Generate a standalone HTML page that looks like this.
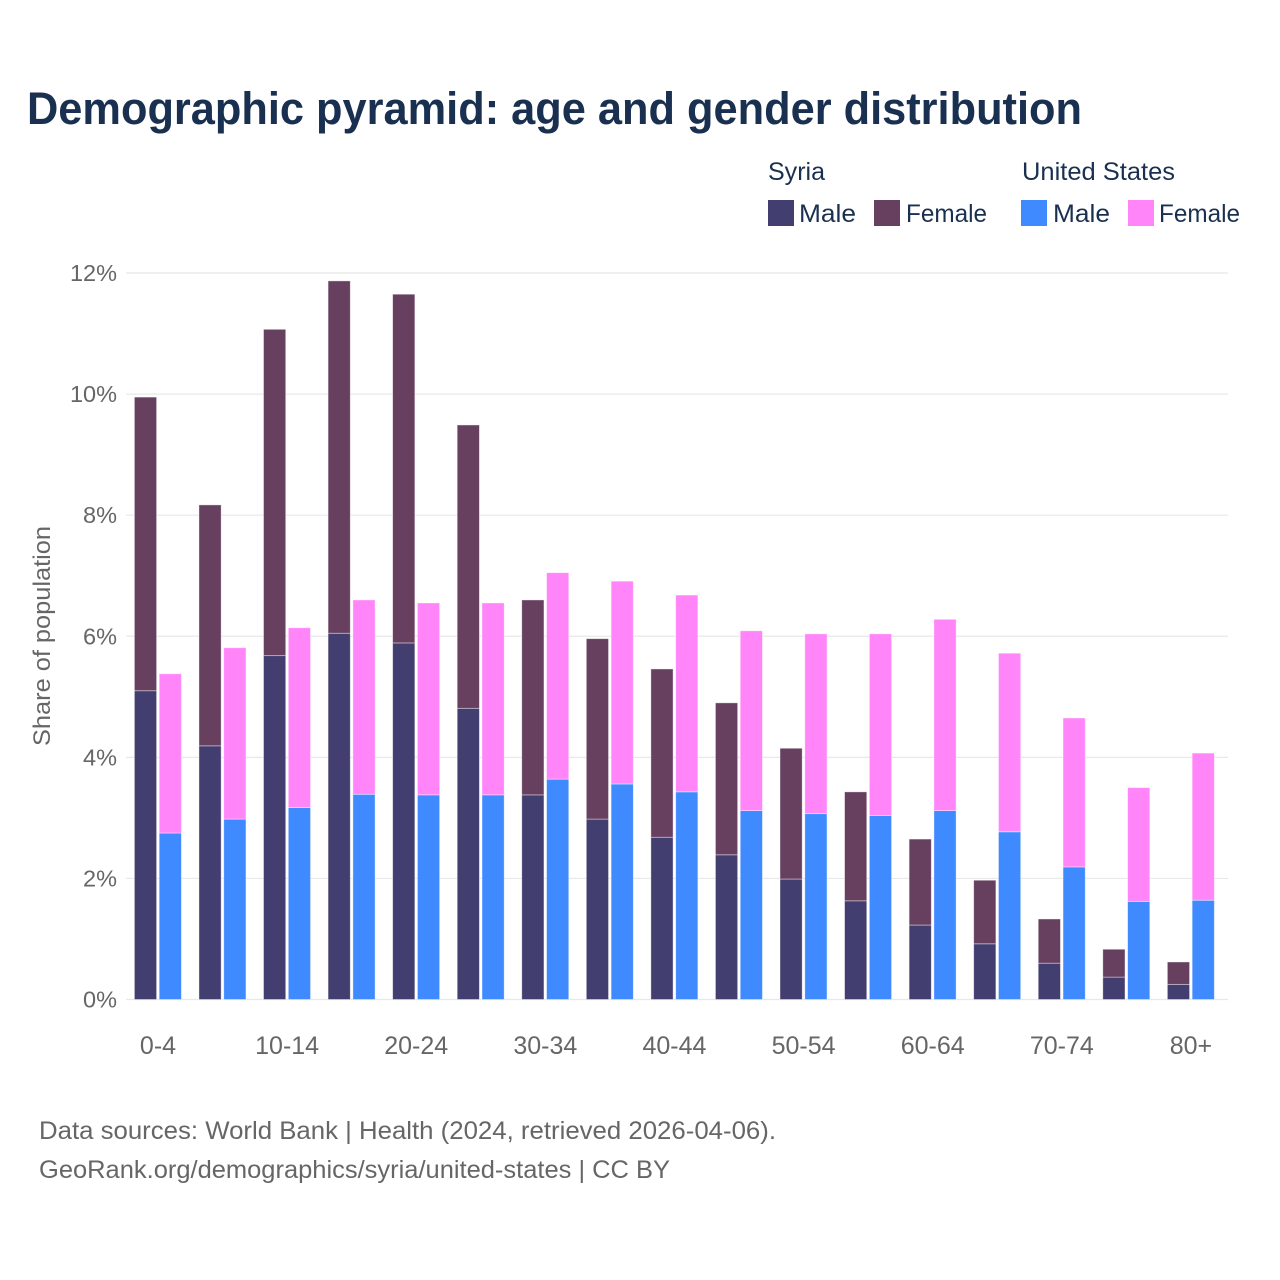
<!DOCTYPE html>
<html lang="en">
<head>
<meta charset="utf-8">
<title>Demographic pyramid</title>
<style>
html,body{margin:0;padding:0;background:#fff}
svg{display:block}
text{font-family:"Liberation Sans",sans-serif}
</style>
</head>
<body>
<svg id="chart" xmlns="http://www.w3.org/2000/svg" width="1280" height="1280" viewBox="0 0 1280 1280">
<rect width="1280" height="1280" fill="#fff"/>
<text x="27" y="124" font-size="45" font-weight="700" fill="#1a3050" textLength="1055" lengthAdjust="spacingAndGlyphs">Demographic pyramid: age and gender distribution</text>
<g>
<text x="768" y="180" font-size="25" fill="#1a3050" textLength="57" lengthAdjust="spacingAndGlyphs">Syria</text>
<text x="1022" y="180" font-size="25" fill="#1a3050" textLength="153" lengthAdjust="spacingAndGlyphs">United States</text>
<rect x="768" y="200" width="26" height="26" fill="#433e70"/>
<text x="799" y="222" font-size="25" fill="#1a3050" textLength="57" lengthAdjust="spacingAndGlyphs">Male</text>
<rect x="874" y="200" width="26" height="26" fill="#674060"/>
<text x="906" y="222" font-size="25" fill="#1a3050" textLength="81" lengthAdjust="spacingAndGlyphs">Female</text>
<rect x="1021" y="200" width="26" height="26" fill="#408aff"/>
<text x="1053" y="222" font-size="25" fill="#1a3050" textLength="57" lengthAdjust="spacingAndGlyphs">Male</text>
<rect x="1128" y="200" width="26" height="26" fill="#ff85f9"/>
<text x="1159" y="222" font-size="25" fill="#1a3050" textLength="81" lengthAdjust="spacingAndGlyphs">Female</text>
</g>
<g id="grid"></g>
<g id="bars"></g>
<g id="xlabels"></g>
<text transform="translate(50,636) rotate(-90)" text-anchor="middle" font-size="24" fill="#666" textLength="220" lengthAdjust="spacingAndGlyphs">Share of population</text>
<text x="39" y="1139" font-size="25" fill="#666" textLength="737" lengthAdjust="spacingAndGlyphs">Data sources: World Bank | Health (2024, retrieved 2026-04-06).</text>
<text x="39" y="1178" font-size="25" fill="#666" textLength="631" lengthAdjust="spacingAndGlyphs">GeoRank.org/demographics/syria/united-states | CC BY</text>
</svg>
<script>
const categories = ['0-4','5-9','10-14','15-19','20-24','25-29','30-34','35-39','40-44','45-49','50-54','55-59','60-64','65-69','70-74','75-79','80+'];
const syriaMale = [5.10,4.19,5.68,6.05,5.89,4.81,3.38,2.98,2.68,2.39,1.99,1.63,1.23,0.92,0.60,0.37,0.25];
const syriaFemale = [4.85,3.98,5.39,5.82,5.76,4.68,3.22,2.98,2.78,2.51,2.16,1.80,1.42,1.05,0.73,0.46,0.37];
const usMale = [2.75,2.98,3.17,3.39,3.38,3.38,3.64,3.56,3.43,3.12,3.07,3.04,3.12,2.77,2.19,1.62,1.64];
const usFemale = [2.63,2.83,2.97,3.21,3.17,3.17,3.41,3.35,3.25,2.97,2.97,3.00,3.16,2.95,2.46,1.88,2.43];
const yTicks = [0,2,4,6,8,10,12];
const xTickStep = 2;

const NS = 'http://www.w3.org/2000/svg';
const yScale = v => 999.5 - v * 60.54;
const xCenter = i => 158 + i * 64.56;
const barWidth = 22.2;

function mk(parent, tag, attrs, txt) {
  const el = document.createElementNS(NS, tag);
  for (const k in attrs) el.setAttribute(k, attrs[k]);
  if (txt !== undefined) el.textContent = txt;
  parent.appendChild(el);
  return el;
}

const grid = document.getElementById('grid');
yTicks.forEach(t => {
  const line = mk(grid, 'line', {x1:126, x2:1228, y1:yScale(t), y2:yScale(t), stroke:'#e8e8e8', 'stroke-width':1.2});
  
  
  const label = mk(grid, 'text', {x:117, y:yScale(t)+8, 'text-anchor':'end', 'font-size':23.5, fill:'#666'}, t + '%');
  
  
});

const bars = document.getElementById('bars');
function seg(x, lo, hi, color, name) {
  const r = mk(bars, 'rect', {x:x, y:yScale(hi), width:barWidth, height:yScale(lo)-yScale(hi), fill:color, stroke:'#fff', 'stroke-opacity':0.5, 'stroke-width':0.8});
  
  
}
categories.forEach((c, i) => {
  const cx = xCenter(i);
  seg(cx - 23.6, 0, syriaMale[i], '#433e70', 'bar-syria-male-' + c);
  seg(cx - 23.6, syriaMale[i], syriaMale[i] + syriaFemale[i], '#674060', 'bar-syria-female-' + c);
  seg(cx + 1.2, 0, usMale[i], '#408aff', 'bar-us-male-' + c);
  seg(cx + 1.2, usMale[i], usMale[i] + usFemale[i], '#ff85f9', 'bar-us-female-' + c);
});

const xl = document.getElementById('xlabels');
categories.forEach((c, i) => {
  if (i % xTickStep) return;
  const t = mk(xl, 'text', {x:xCenter(i), y:1054, 'text-anchor':'middle', 'font-size':25, fill:'#666'}, c);
  
  
});
</script>
</body>
</html>
